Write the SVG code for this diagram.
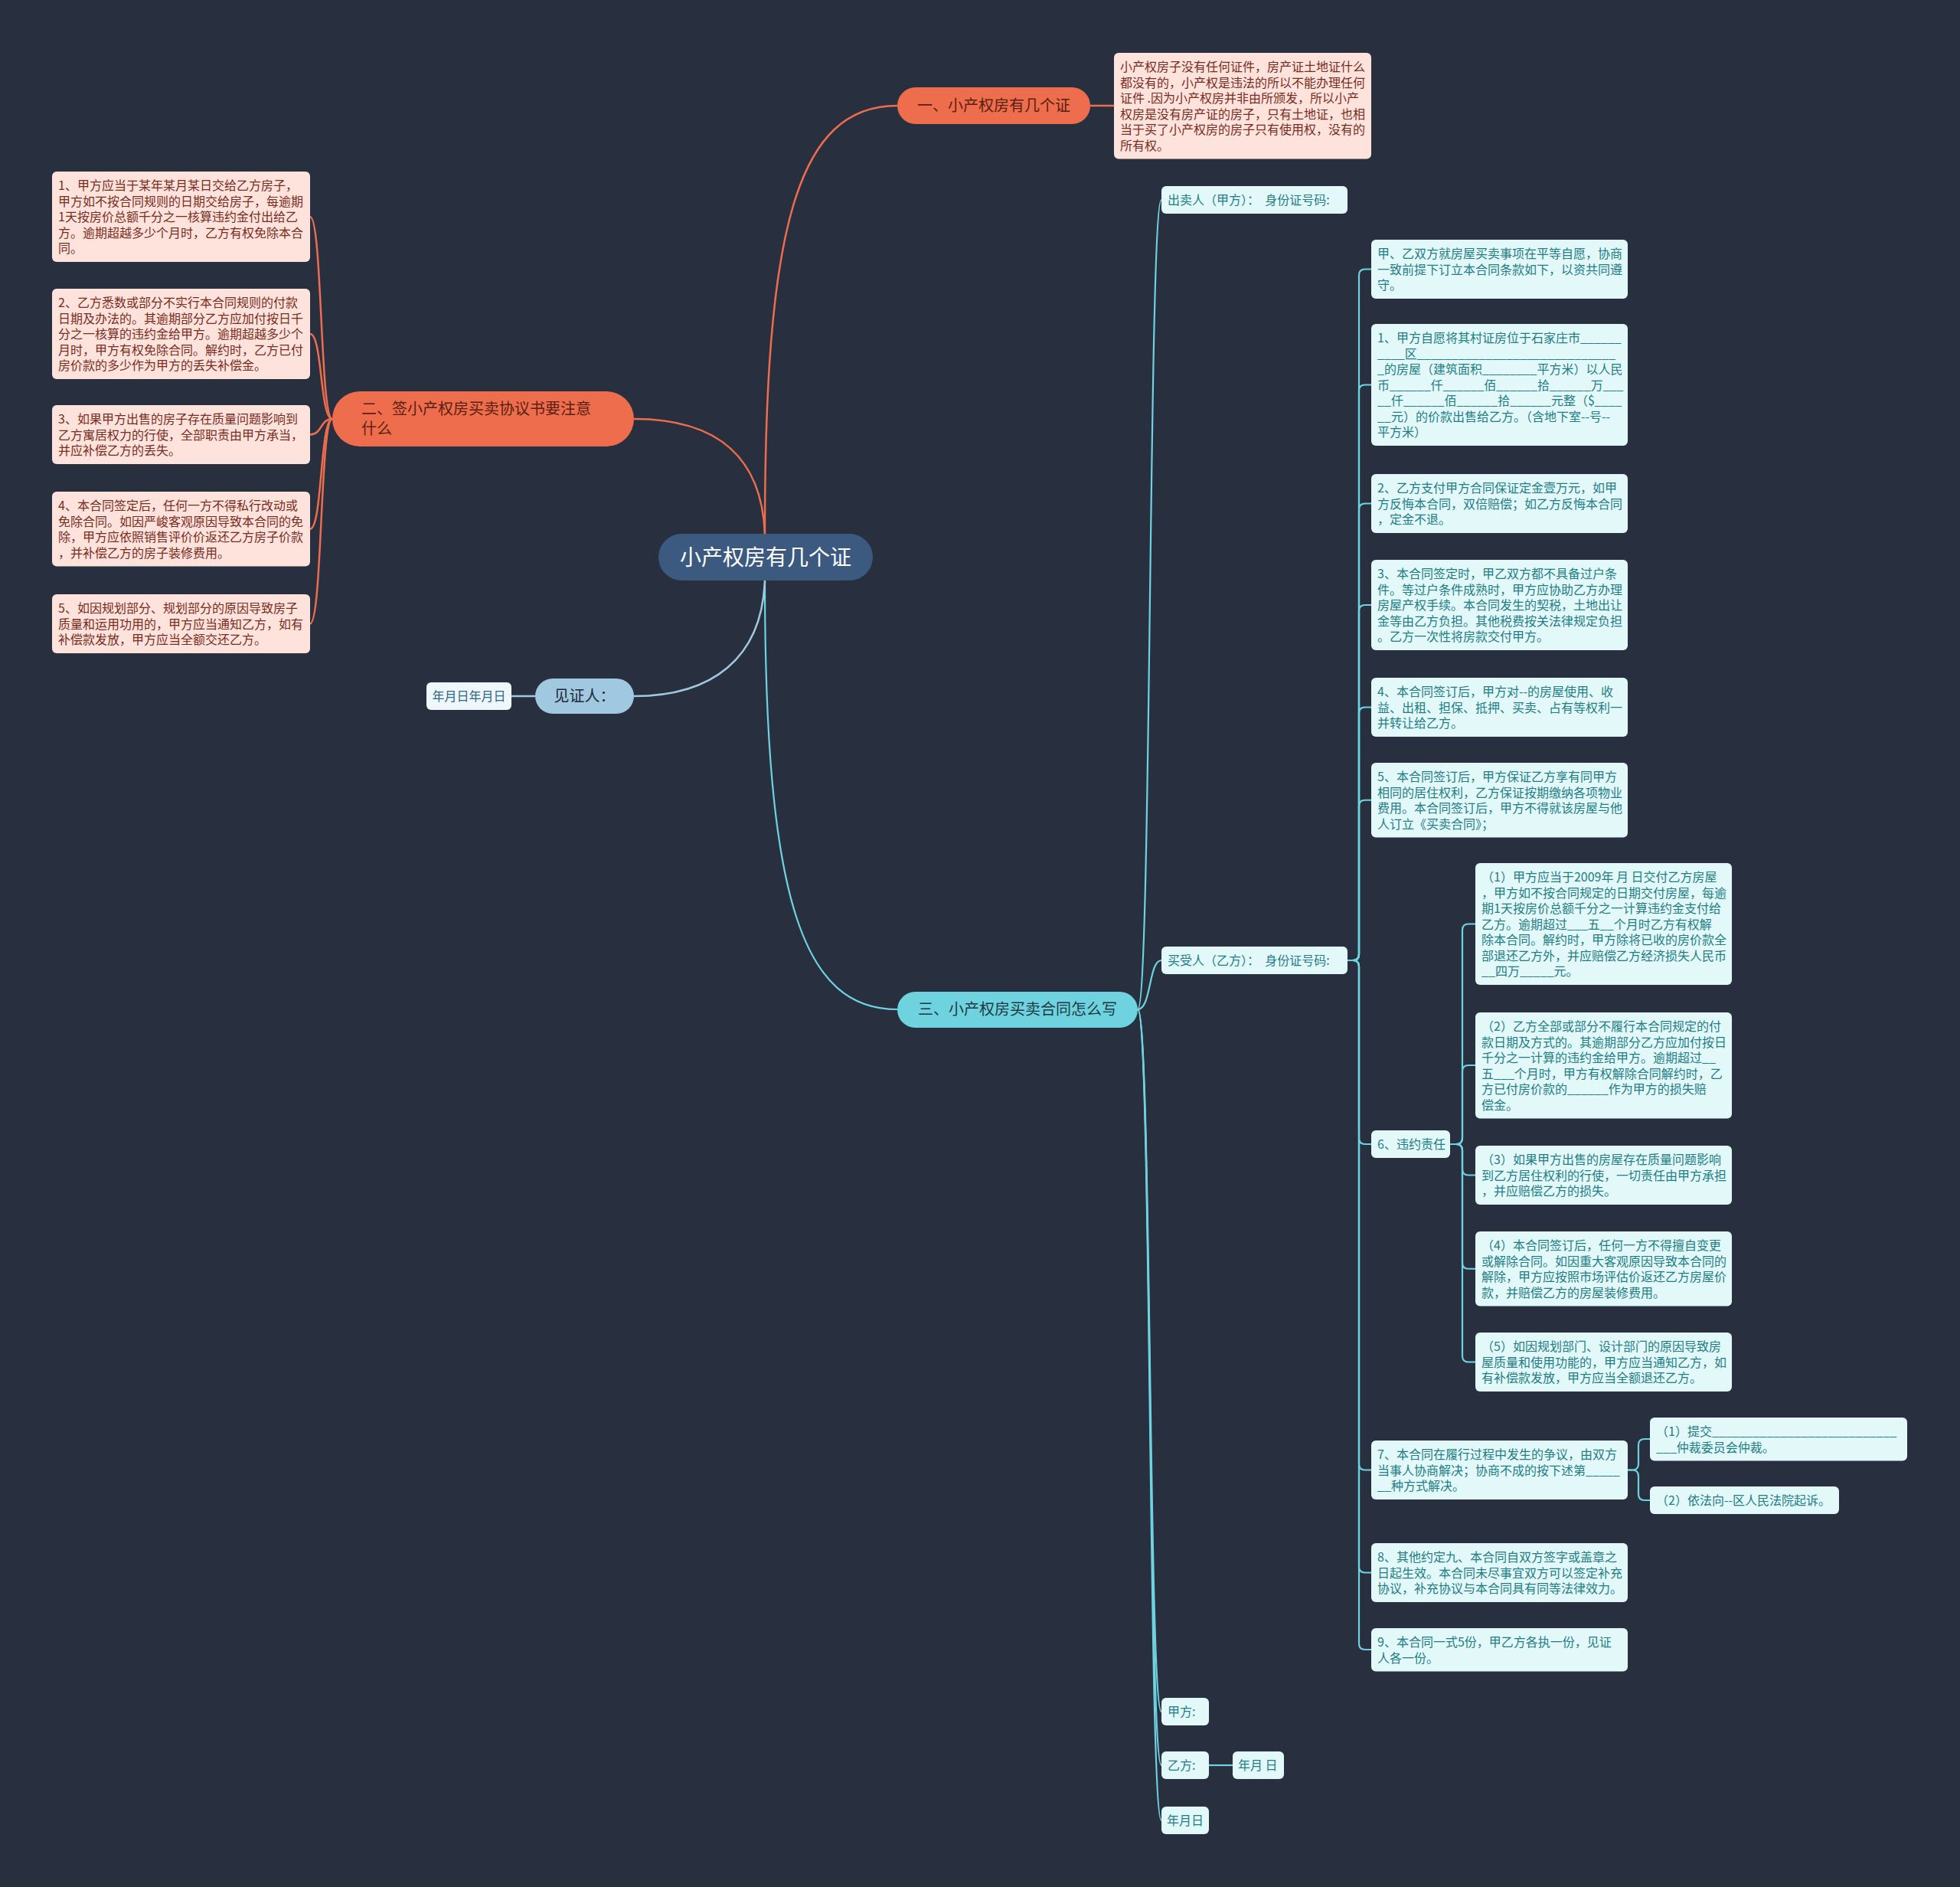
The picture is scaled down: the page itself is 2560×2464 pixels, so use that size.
<svg xmlns="http://www.w3.org/2000/svg" width="2560" height="2464" viewBox="0 0 2560 2464">
<style>
text{font-family:"Noto Sans CJK SC","Noto Sans",sans-serif}
.bg{fill:#283040}
.lo{fill:none;stroke:#ee6d4c;stroke-width:2.5}
.lc{fill:none;stroke:#6fd3df;stroke-width:2.2}
.lb{fill:none;stroke:#a0c8e0;stroke-width:2.5}
.pk{fill:#fde3dc}
.pt{font-size:16px;fill:#7a2b1c}
.cy{fill:#e2f8f9}
.ct{font-size:16px;fill:#1f7d84}
.big{font-size:20px}
</style>
<rect class="bg" x="0" y="0" width="2560" height="2464"/>
<g id="connectors">
<path class="lo" d="M999 697 C999 300 1040 138 1172 138"/>
<path class="lo" d="M999 697 C995 600 940 547 828 547"/>
<path class="lc" d="M999 758 C999 1180 1050 1318 1172 1318"/>
<path class="lb" d="M999 758 C995 860 930 909 828 909"/>
<path class="lo" d="M1424 138 H1455"/>
<path class="lb" d="M668 909 H699"/>
<path class="lo" d="M434 547 C418 547 421 283 405 283"/>
<path class="lo" d="M434 547 C418 547 421 436 405 436"/>
<path class="lo" d="M434 547 C418 547 421 567.5 405 567.5"/>
<path class="lo" d="M434 547 C418 547 421 690.75 405 690.75"/>
<path class="lo" d="M434 547 C418 547 421 814.5 405 814.5"/>
<path class="lc" d="M1486 1318 C1504 1318 1500 261 1517 261"/>
<path class="lc" d="M1486 1318 C1504 1318 1500 1254 1517 1254"/>
<path class="lc" d="M1486 1318 C1504 1318 1500 2235 1517 2235"/>
<path class="lc" d="M1486 1318 C1504 1318 1500 2305 1517 2305"/>
<path class="lc" d="M1486 1318 C1504 1318 1500 2377 1517 2377"/>
<path class="lc" d="M1579 2305 H1610"/>
<path class="lc" d="M1760 1254 H1767 Q1775 1254 1775 1246 V359.5 Q1775 351.5 1783 351.5 H1791"/>
<path class="lc" d="M1760 1254 H1767 Q1775 1254 1775 1246 V510.5 Q1775 502.5 1783 502.5 H1791"/>
<path class="lc" d="M1760 1254 H1767 Q1775 1254 1775 1246 V665.5 Q1775 657.5 1783 657.5 H1791"/>
<path class="lc" d="M1760 1254 H1767 Q1775 1254 1775 1246 V798 Q1775 790 1783 790 H1791"/>
<path class="lc" d="M1760 1254 H1767 Q1775 1254 1775 1246 V931.5 Q1775 923.5 1783 923.5 H1791"/>
<path class="lc" d="M1760 1254 H1767 Q1775 1254 1775 1246 V1052.75 Q1775 1044.75 1783 1044.75 H1791"/>
<path class="lc" d="M1760 1254 H1767 Q1775 1254 1775 1262 V1486 Q1775 1494 1783 1494 H1791"/>
<path class="lc" d="M1760 1254 H1767 Q1775 1254 1775 1262 V1911.5 Q1775 1919.5 1783 1919.5 H1791"/>
<path class="lc" d="M1760 1254 H1767 Q1775 1254 1775 1262 V2045.5 Q1775 2053.5 1783 2053.5 H1791"/>
<path class="lc" d="M1760 1254 H1767 Q1775 1254 1775 1262 V2146 Q1775 2154 1783 2154 H1791"/>
<path class="lc" d="M1894 1494 H1902 Q1910 1494 1910 1486 V1214.5 Q1910 1206.5 1918 1206.5 H1927"/>
<path class="lc" d="M1894 1494 H1902 Q1910 1494 1910 1486 V1399 Q1910 1391 1918 1391 H1927"/>
<path class="lc" d="M1894 1494 H1902 Q1910 1494 1910 1502 V1526.5 Q1910 1534.5 1918 1534.5 H1927"/>
<path class="lc" d="M1894 1494 H1902 Q1910 1494 1910 1502 V1648.75 Q1910 1656.75 1918 1656.75 H1927"/>
<path class="lc" d="M1894 1494 H1902 Q1910 1494 1910 1502 V1770.5 Q1910 1778.5 1918 1778.5 H1927"/>
<path class="lc" d="M2126 1919.5 H2132 Q2140 1919.5 2140 1911.5 V1887 Q2140 1879 2148 1879 H2155"/>
<path class="lc" d="M2126 1919.5 H2132 Q2140 1919.5 2140 1927.5 V1951 Q2140 1959 2148 1959 H2155"/>
</g>
<g id="root">
<rect x="860" y="697" width="280" height="61" rx="30.5" fill="#3c5a80"/>
<text x="1000" y="738" font-size="28" fill="#ffffff" text-anchor="middle">小产权房有几个证</text>
</g>
<g id="n1">
<rect x="1172" y="114" width="252" height="48" rx="24" fill="#ee6d4c"/>
<text class="big" x="1298" y="145" fill="#5a1f12" text-anchor="middle">一、小产权房有几个证</text>
</g>
<g id="n1a">
<rect class="pk" x="1455" y="69" width="336" height="138.5" rx="6"/>
<text class="pt"><tspan x="1463" y="93">小产权房子没有任何证件，房产证土地证什么</tspan><tspan x="1463" y="113.5">都没有的，小产权是违法的所以不能办理任何</tspan><tspan x="1463" y="134">证件 .因为小产权房并非由所颁发，所以小产</tspan><tspan x="1463" y="154.5">权房是没有房产证的房子，只有土地证，也相</tspan><tspan x="1463" y="175">当于买了小产权房的房子只有使用权，没有的</tspan><tspan x="1463" y="195.5">所有权。</tspan></text>
</g>
<g id="n2">
<rect x="434" y="511" width="394" height="72" rx="36" fill="#ee6d4c"/>
<text class="big" fill="#5a1f12"><tspan x="472" y="541">二、签小产权房买卖协议书要注意</tspan><tspan x="472" y="567">什么</tspan></text>
</g>
<g id="n2a">
<rect class="pk" x="68" y="224" width="337" height="118" rx="6"/>
<text class="pt"><tspan x="76" y="248">1、甲方应当于某年某月某日交给乙方房子，</tspan><tspan x="76" y="268.5">甲方如不按合同规则的日期交给房子，每逾期</tspan><tspan x="76" y="289">1天按房价总额千分之一核算违约金付出给乙</tspan><tspan x="76" y="309.5">方。逾期超越多少个月时，乙方有权免除本合</tspan><tspan x="76" y="330">同。</tspan></text>
</g>
<g id="n2b">
<rect class="pk" x="68" y="377" width="337" height="118" rx="6"/>
<text class="pt"><tspan x="76" y="401">2、乙方悉数或部分不实行本合同规则的付款</tspan><tspan x="76" y="421.5">日期及办法的。其逾期部分乙方应加付按日千</tspan><tspan x="76" y="442">分之一核算的违约金给甲方。逾期超越多少个</tspan><tspan x="76" y="462.5">月时，甲方有权免除合同。解约时，乙方已付</tspan><tspan x="76" y="483">房价款的多少作为甲方的丢失补偿金。</tspan></text>
</g>
<g id="n2c">
<rect class="pk" x="68" y="529" width="337" height="77" rx="6"/>
<text class="pt"><tspan x="76" y="553">3、如果甲方出售的房子存在质量问题影响到</tspan><tspan x="76" y="573.5">乙方寓居权力的行使，全部职责由甲方承当，</tspan><tspan x="76" y="594">并应补偿乙方的丢失。</tspan></text>
</g>
<g id="n2d">
<rect class="pk" x="68" y="642" width="337" height="97.5" rx="6"/>
<text class="pt"><tspan x="76" y="666">4、本合同签定后，任何一方不得私行改动或</tspan><tspan x="76" y="686.5">免除合同。如因严峻客观原因导致本合同的免</tspan><tspan x="76" y="707">除，甲方应依照销售评价价返还乙方房子价款</tspan><tspan x="76" y="727.5">，并补偿乙方的房子装修费用。</tspan></text>
</g>
<g id="n2e">
<rect class="pk" x="68" y="776" width="337" height="77" rx="6"/>
<text class="pt"><tspan x="76" y="800">5、如因规划部分、规划部分的原因导致房子</tspan><tspan x="76" y="820.5">质量和运用功用的，甲方应当通知乙方，如有</tspan><tspan x="76" y="841">补偿款发放，甲方应当全额交还乙方。</tspan></text>
</g>
<g id="witness">
<rect x="699" y="886" width="129" height="46" rx="23" fill="#a0c8e0"/>
<text class="big" x="763.5" y="916" fill="#1f2a36" text-anchor="middle">见证人：</text>
</g>
<g id="witness-date">
<rect x="557" y="891" width="111" height="36" rx="6" fill="#eef7fb"/>
<text x="612.5" y="915" font-size="16" fill="#2f6783" text-anchor="middle">年月日年月日</text>
</g>
<g id="n3">
<rect x="1172" y="1295" width="314" height="47" rx="23.5" fill="#6fd3df"/>
<text class="big" x="1329" y="1325" fill="#1d3a44" text-anchor="middle">三、小产权房买卖合同怎么写</text>
</g>
<g id="seller">
<rect class="cy" x="1517" y="243" width="243" height="36" rx="6"/>
<text class="ct" x="1525" y="266.5" xml:space="preserve">出卖人（甲方）：  身份证号码:</text>
</g>
<g id="buyer">
<rect class="cy" x="1517" y="1236" width="243" height="36" rx="6"/>
<text class="ct" x="1525" y="1259.5" xml:space="preserve">买受人（乙方）：  身份证号码:</text>
</g>
<g id="c0">
<rect class="cy" x="1791" y="313" width="335" height="77" rx="6"/>
<text class="ct"><tspan x="1799" y="337">甲、乙双方就房屋买卖事项在平等自愿，协商</tspan><tspan x="1799" y="357.5">一致前提下订立本合同条款如下，以资共同遵</tspan><tspan x="1799" y="378">守。</tspan></text>
</g>
<g id="c1">
<rect class="cy" x="1791" y="423" width="335" height="159" rx="6"/>
<text class="ct"><tspan x="1799" y="447">1、甲方自愿将其村证房位于石家庄市______</tspan><tspan x="1799" y="467.5">____区_____________________________</tspan><tspan x="1799" y="488">_的房屋（建筑面积________平方米）以人民</tspan><tspan x="1799" y="508.5">币______仟______佰______拾______万___</tspan><tspan x="1799" y="529">__仟______佰______拾______元整（$____</tspan><tspan x="1799" y="549.5">__元）的价款出售给乙方。（含地下室--号--</tspan><tspan x="1799" y="570">平方米）</tspan></text>
</g>
<g id="c2">
<rect class="cy" x="1791" y="619" width="335" height="77" rx="6"/>
<text class="ct"><tspan x="1799" y="643">2、乙方支付甲方合同保证定金壹万元，如甲</tspan><tspan x="1799" y="663.5">方反悔本合同，双倍赔偿；如乙方反悔本合同</tspan><tspan x="1799" y="684">，定金不退。</tspan></text>
</g>
<g id="c3">
<rect class="cy" x="1791" y="731" width="335" height="118" rx="6"/>
<text class="ct"><tspan x="1799" y="755">3、本合同签定时，甲乙双方都不具备过户条</tspan><tspan x="1799" y="775.5">件。等过户条件成熟时，甲方应协助乙方办理</tspan><tspan x="1799" y="796">房屋产权手续。本合同发生的契税，土地出让</tspan><tspan x="1799" y="816.5">金等由乙方负担。其他税费按关法律规定负担</tspan><tspan x="1799" y="837">。乙方一次性将房款交付甲方。</tspan></text>
</g>
<g id="c4">
<rect class="cy" x="1791" y="885" width="335" height="77" rx="6"/>
<text class="ct"><tspan x="1799" y="909">4、本合同签订后，甲方对--的房屋使用、收</tspan><tspan x="1799" y="929.5">益、出租、担保、抵押、买卖、占有等权利一</tspan><tspan x="1799" y="950">并转让给乙方。</tspan></text>
</g>
<g id="c5">
<rect class="cy" x="1791" y="996" width="335" height="97.5" rx="6"/>
<text class="ct"><tspan x="1799" y="1020">5、本合同签订后，甲方保证乙方享有同甲方</tspan><tspan x="1799" y="1040.5">相同的居住权利，乙方保证按期缴纳各项物业</tspan><tspan x="1799" y="1061">费用。本合同签订后，甲方不得就该房屋与他</tspan><tspan x="1799" y="1081.5">人订立《买卖合同》；</tspan></text>
</g>
<g id="c6">
<rect class="cy" x="1791" y="1476" width="103" height="36" rx="6"/>
<text class="ct" x="1799" y="1499.5">6、违约责任</text>
</g>
<g id="c6a">
<rect class="cy" x="1927" y="1127" width="335" height="159" rx="6"/>
<text class="ct"><tspan x="1935" y="1151">（1）甲方应当于2009年 月 日交付乙方房屋</tspan><tspan x="1935" y="1171.5">，甲方如不按合同规定的日期交付房屋，每逾</tspan><tspan x="1935" y="1192">期1天按房价总额千分之一计算违约金支付给</tspan><tspan x="1935" y="1212.5">乙方。逾期超过___五__个月时乙方有权解</tspan><tspan x="1935" y="1233">除本合同。解约时，甲方除将已收的房价款全</tspan><tspan x="1935" y="1253.5">部退还乙方外，并应赔偿乙方经济损失人民币</tspan><tspan x="1935" y="1274">__四万_____元。</tspan></text>
</g>
<g id="c6b">
<rect class="cy" x="1927" y="1322" width="335" height="138.5" rx="6"/>
<text class="ct"><tspan x="1935" y="1346">（2）乙方全部或部分不履行本合同规定的付</tspan><tspan x="1935" y="1366.5">款日期及方式的。其逾期部分乙方应加付按日</tspan><tspan x="1935" y="1387">千分之一计算的违约金给甲方。逾期超过__</tspan><tspan x="1935" y="1407.5">五___个月时，甲方有权解除合同解约时，乙</tspan><tspan x="1935" y="1428">方已付房价款的______作为甲方的损失赔</tspan><tspan x="1935" y="1448.5">偿金。</tspan></text>
</g>
<g id="c6c">
<rect class="cy" x="1927" y="1496" width="335" height="77" rx="6"/>
<text class="ct"><tspan x="1935" y="1520">（3）如果甲方出售的房屋存在质量问题影响</tspan><tspan x="1935" y="1540.5">到乙方居住权利的行使，一切责任由甲方承担</tspan><tspan x="1935" y="1561">，并应赔偿乙方的损失。</tspan></text>
</g>
<g id="c6d">
<rect class="cy" x="1927" y="1608" width="335" height="97.5" rx="6"/>
<text class="ct"><tspan x="1935" y="1632">（4）本合同签订后，任何一方不得擅自变更</tspan><tspan x="1935" y="1652.5">或解除合同。如因重大客观原因导致本合同的</tspan><tspan x="1935" y="1673">解除，甲方应按照市场评估价返还乙方房屋价</tspan><tspan x="1935" y="1693.5">款，并赔偿乙方的房屋装修费用。</tspan></text>
</g>
<g id="c6e">
<rect class="cy" x="1927" y="1740" width="335" height="77" rx="6"/>
<text class="ct"><tspan x="1935" y="1764">（5）如因规划部门、设计部门的原因导致房</tspan><tspan x="1935" y="1784.5">屋质量和使用功能的，甲方应当通知乙方，如</tspan><tspan x="1935" y="1805">有补偿款发放，甲方应当全额退还乙方。</tspan></text>
</g>
<g id="c7">
<rect class="cy" x="1791" y="1881" width="335" height="77" rx="6"/>
<text class="ct"><tspan x="1799" y="1905">7、本合同在履行过程中发生的争议，由双方</tspan><tspan x="1799" y="1925.5">当事人协商解决；协商不成的按下述第_____</tspan><tspan x="1799" y="1946">__种方式解决。</tspan></text>
</g>
<g id="c7a">
<rect class="cy" x="2155" y="1851" width="336" height="56.5" rx="6"/>
<text class="ct"><tspan x="2163" y="1875">（1）提交___________________________</tspan><tspan x="2163" y="1895.5">___仲裁委员会仲裁。</tspan></text>
</g>
<g id="c7b">
<rect class="cy" x="2155" y="1941" width="247" height="36" rx="6"/>
<text class="ct" x="2163" y="1964.5">（2）依法向--区人民法院起诉。</text>
</g>
<g id="c8">
<rect class="cy" x="1791" y="2015" width="335" height="77" rx="6"/>
<text class="ct"><tspan x="1799" y="2039">8、其他约定九、本合同自双方签字或盖章之</tspan><tspan x="1799" y="2059.5">日起生效。本合同未尽事宜双方可以签定补充</tspan><tspan x="1799" y="2080">协议，补充协议与本合同具有同等法律效力。</tspan></text>
</g>
<g id="c9">
<rect class="cy" x="1791" y="2126" width="335" height="56.5" rx="6"/>
<text class="ct"><tspan x="1799" y="2150">9、本合同一式5份，甲乙方各执一份，见证</tspan><tspan x="1799" y="2170.5">人各一份。</tspan></text>
</g>
<g id="partyA">
<rect class="cy" x="1517" y="2217" width="62" height="36" rx="6"/>
<text class="ct" x="1525" y="2240.5">甲方:</text>
</g>
<g id="partyB">
<rect class="cy" x="1517" y="2287" width="62" height="36" rx="6"/>
<text class="ct" x="1525" y="2310.5">乙方:</text>
</g>
<g id="partyB-date">
<rect class="cy" x="1610" y="2287" width="67" height="36" rx="6"/>
<text class="ct" x="1617" y="2310.5" xml:space="preserve">年月 日</text>
</g>
<g id="date">
<rect class="cy" x="1517" y="2359" width="62" height="36" rx="6"/>
<text class="ct" x="1524" y="2382.5">年月日</text>
</g>
</svg>
